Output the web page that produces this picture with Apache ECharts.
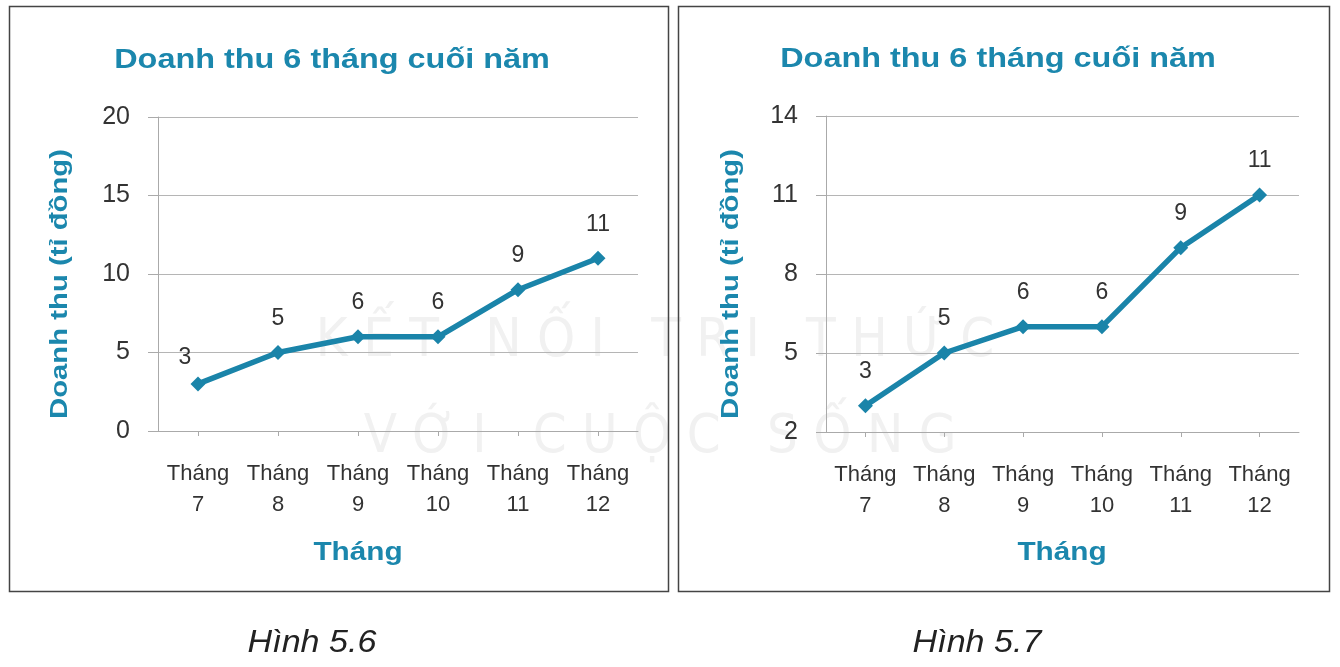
<!DOCTYPE html>
<html>
<head>
<meta charset="utf-8">
<script src="https://cdn.jsdelivr.net/npm/echarts@6/dist/echarts.min.js"></script>
<style>
  html, body { margin:0; padding:0; background:#fff; }
  #chart { width:1340px; height:667px; }
</style>
</head>
<body>
<div id="chart"></div>
<script>
// data
var months = ['Tháng\n7', 'Tháng\n8', 'Tháng\n9', 'Tháng\n10', 'Tháng\n11', 'Tháng\n12'];
var revenue = [3, 5, 6, 6, 9, 11];
var axisLeft = { min: 0, max: 20, step: 5 };   // Hình 5.6
var axisRight = { min: 2, max: 14, step: 3 };  // Hình 5.7
var titleText = 'Doanh thu 6 tháng cuối năm';
var yName = 'Doanh thu (tỉ đồng)';
var xName = 'Tháng';
var captions = ['Hình 5.6', 'Hình 5.7'];

var teal = '#1b87ad';
var lineCol = '#1a84a9';
var txt = '#333';
var font = 'Liberation Sans, Arial, sans-serif';

var chart = echarts.init(document.getElementById('chart'));

function xAx(gi){
  return {
    type:'category',
    gridIndex:gi,
    data:months,
    boundaryGap:true,
    axisLine:{show:true, lineStyle:{color:'#aaa', width:1}},
    axisTick:{show:true, alignWithLabel:true, length:5, lineStyle:{color:'#aaa'}},
    axisLabel:{color:txt, fontFamily:font, fontSize:22, lineHeight:31, margin:27, interval:0}
  };
}
function yAx(gi, a){
  return {
    type:'value',
    gridIndex:gi,
    min:a.min, max:a.max, interval:a.step,
    axisLine:{show:true, lineStyle:{color:'#aaa', width:1}},
    axisTick:{show:true, length:10, lineStyle:{color:'#aaa'}},
    splitLine:{show:true, lineStyle:{color:'#b5b5b5', width:1}},
    axisLabel:{color:txt, fontFamily:font, fontSize:25, margin:28}
  };
}
function ser(i){
  var d = revenue.map(function(v, k){
    // the first label of Hình 5.6 sits up-left of its point
    if (i === 0 && k === 0) return {value:v, label:{offset:[-13, 8]}};
    return v;
  });
  return {
    type:'line',
    xAxisIndex:i, yAxisIndex:i,
    data:d,
    symbol:'diamond',
    symbolSize:15,
    lineStyle:{color:lineCol, width:5.5},
    itemStyle:{color:lineCol},
    label:{show:true, position:'top', distance:15, color:txt, fontFamily:font, fontSize:23},
    z:5
  };
}

function txtEl(x, y, text, style, rot, sx, z){
  return {
    type:'text', x:x, y:y, rotation:rot || 0, scaleX:sx || 1,
    style:Object.assign({text:text, align:'center', verticalAlign:'middle'}, style),
    z:(z === undefined ? 10 : z)
  };
}

var titleStyle = {fill:teal, font:'bold 27px "Liberation Sans", Arial, sans-serif'};
var yNameStyle = {fill:teal, font:'bold 24px "Liberation Sans", Arial, sans-serif'};
var xNameStyle = {fill:teal, font:'bold 25px "Liberation Sans", Arial, sans-serif'};
var capStyle = {fill:'#222', font:'italic 31px "Liberation Sans", Arial, sans-serif'};
var wmStyle = {fill:'#f1f1f1', font:'54px "DejaVu Sans Condensed", "DejaVu Sans", sans-serif'};

chart.setOption({
  animation:false,
  grid:[
    {left:158, top:117, width:480, height:314},
    {left:826, top:116, width:473, height:316}
  ],
  xAxis:[xAx(0), xAx(1)],
  yAxis:[yAx(0, axisLeft), yAx(1, axisRight)],
  series:[ser(0), ser(1)],
  graphic:[
    // faint watermark behind the charts
    txtEl(655, 342, 'K Ế T   N Ố I   T R I   T H Ứ C', wmStyle, 0, 1, -1),
    txtEl(660, 438, 'V Ớ I   C U Ộ C   S Ố N G', wmStyle, 0, 1, -1),
    // frames
    {type:'rect', shape:{x:9.5, y:6.5, width:659, height:585}, style:{fill:null, stroke:'#444', lineWidth:1.5}, z:1},
    {type:'rect', shape:{x:678.5, y:6.5, width:651, height:585}, style:{fill:null, stroke:'#444', lineWidth:1.5}, z:1},
    // titles
    txtEl(332, 61, titleText, titleStyle, 0, 1.2),
    txtEl(998, 60, titleText, titleStyle, 0, 1.2),
    // y axis names
    txtEl(60, 284, yName, yNameStyle, Math.PI/2, 1.22),
    txtEl(731, 284, yName, yNameStyle, Math.PI/2, 1.22),
    // x axis names
    txtEl(358, 553, xName, xNameStyle, 0, 1.19),
    txtEl(1062, 553, xName, xNameStyle, 0, 1.19),
    // captions
    txtEl(312, 643, captions[0], capStyle, 0, 1.1),
    txtEl(977, 643, captions[1], capStyle, 0, 1.1)
  ]
});
</script>
</body>
</html>
